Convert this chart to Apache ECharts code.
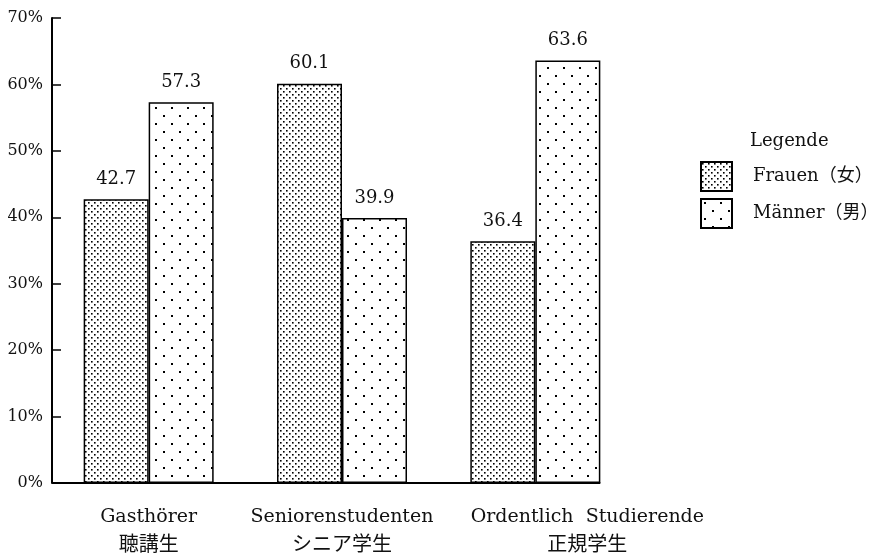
<!DOCTYPE html>
<html><head><meta charset="utf-8">
<script src="https://cdn.jsdelivr.net/npm/echarts@6/dist/echarts.min.js"></script>
<style>html,body{margin:0;padding:0;background:#fff}#c{width:881px;height:555px}</style>
</head><body><div id="c"></div>
<script>
const categoriesDe = ['Gasthörer', 'Seniorenstudenten', 'Ordentlich  Studierende'];
const categoriesJa = ['聴講生', 'シニア学生', '正規学生'];
const frauen = [42.7, 60.1, 36.4];
const maenner = [57.3, 39.9, 63.6];
const seriesNames = ['Frauen（女）', 'Männer（男）'];
const yTicks = [0, 10, 20, 30, 40, 50, 60, 70];

function pattern(size, dots, r) {
  const c = document.createElement('canvas');
  c.width = size; c.height = size;
  const g = c.getContext('2d');
  g.fillStyle = '#fff'; g.fillRect(0, 0, size, size);
  g.fillStyle = '#000';
  dots.forEach(d => g.fillRect(d[0], d[1], r, r));
  return c;
}
const densePat = pattern(6, [[1, 1], [4, 4]], 1.6);
const sparsePat = pattern(16, [[3, 3], [11, 11]], 2);

const FONT = "'DejaVu Serif', 'Noto Sans CJK JP', serif";
const CJK = "'Noto Sans CJK JP', sans-serif";
const categories = categoriesDe.map((d, i) => d + '\n' + categoriesJa[i]);

const chart = echarts.init(document.getElementById('c'));
const option = {
  animation: false,
  backgroundColor: '#fff',
  title: {
    text: 'Legende', left: 750, top: 132, padding: 0,
    textStyle: { fontFamily: FONT, fontSize: 18, fontWeight: 'normal', color: '#111' }
  },
  legend: {
    orient: 'vertical', left: 700, top: 161, padding: 0, itemWidth: 31, itemHeight: 29, itemGap: 6,
    icon: 'rect',
    data: seriesNames,
    textStyle: { fontFamily: FONT, fontSize: 18, color: '#111', padding: [0, 0, 0, 16] }
  },
  grid: { left: 52, right: 249, top: 18, bottom: 72 },
  xAxis: {
    type: 'category',
    data: categories.map((c, i) => i === 2 ? { value: c, textStyle: { padding: [0, 0, 0, 104] } } : c),
    axisLine: { show: false },
    axisTick: { show: false },
    axisLabel: {
      interval: 0, margin: 21,
      formatter: v => { const p = v.split('\n'); return '{a|' + p[0] + '}\n{b|' + p[1] + '}'; },
      rich: {
        a: { fontFamily: FONT, fontSize: 19, color: '#111', lineHeight: 26 },
        b: { fontFamily: CJK, fontSize: 20, color: '#111', lineHeight: 26 }
      }
    }
  },
  yAxis: {
    type: 'value', min: 0, max: 70, interval: 10,
    splitLine: { show: false },
    axisLine: { show: true, lineStyle: { color: '#000', width: 2 } },
    axisTick: { show: true, inside: true, length: 9, lineStyle: { color: '#000', width: 1.5 } },
    axisLabel: { fontFamily: FONT, fontSize: 16, color: '#111', margin: 9,
      formatter: v => yTicks.includes(v) ? v + '%' : '' }
  },
  series: [
    {
      name: seriesNames[0], type: 'bar', data: frauen, barWidth: 65, barGap: '0%',
      itemStyle: { color: { image: densePat, repeat: 'repeat' }, borderColor: '#000', borderWidth: 1.5 },
      label: { show: true, position: 'top', distance: 11, fontFamily: FONT, fontSize: 18, color: '#111' }
    },
    {
      name: seriesNames[1], type: 'bar', data: maenner, barWidth: 65, barGap: '0%',
      itemStyle: { color: { image: sparsePat, repeat: 'repeat' }, borderColor: '#000', borderWidth: 1.5 },
      label: { show: true, position: 'top', distance: 11, fontFamily: FONT, fontSize: 18, color: '#111' }
    }
  ]
};
chart.setOption(option);
// x-axis baseline from the y-axis to the right edge of the last bar
const p0 = chart.convertToPixel({ gridIndex: 0 }, [0, 0]);
const pLast = chart.convertToPixel({ gridIndex: 0 }, [categories.length - 1, 0]);
const gridLeft = 52;
chart.setOption({
  graphic: [{
    type: 'line', z: 10,
    shape: { x1: gridLeft, y1: p0[1], x2: pLast[0] + 65, y2: p0[1] },
    style: { stroke: '#000', lineWidth: 2 }
  }]
});
</script></body></html>
